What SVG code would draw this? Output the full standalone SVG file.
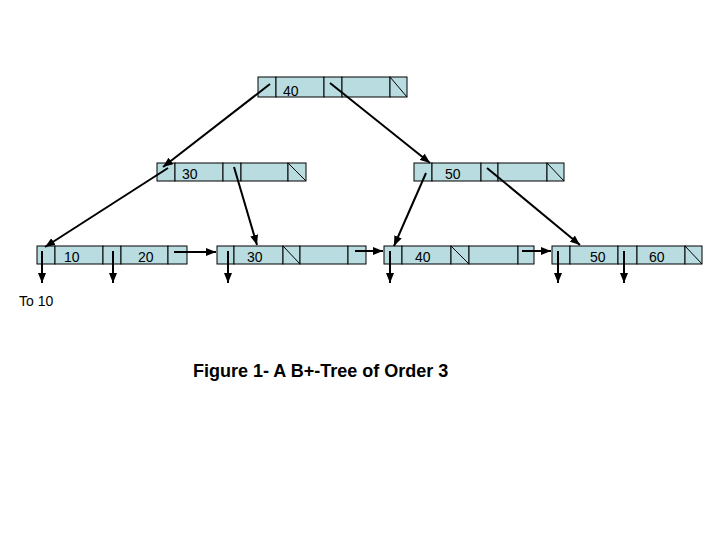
<svg xmlns="http://www.w3.org/2000/svg" width="720" height="540" viewBox="0 0 720 540">
<style>
.cell{fill:#B8DCE0;stroke:#000;stroke-width:1}
.null{stroke:#000;stroke-width:1}
.key{font-family:"Liberation Sans",Arial,sans-serif;font-size:14px;fill:#000}
.conn{stroke:#000;stroke-width:2;fill:none;marker-end:url(#ah)}
.cap{font-family:"Liberation Sans",Arial,sans-serif;font-size:18px;font-weight:bold;fill:#000}
</style>
<defs>
<marker id="ah" markerUnits="userSpaceOnUse" markerWidth="10" markerHeight="8" refX="10" refY="4" orient="auto">
<path d="M0,0 L10,4 L0,8 z" fill="#000"/>
</marker>
</defs>
<rect width="720" height="540" fill="#fff"/>

<g id="root">
<rect class="cell" x="258" y="77" width="18" height="20"/>
<rect class="cell" x="276" y="77" width="48" height="20"/>
<rect class="cell" x="324" y="77" width="18" height="20"/>
<rect class="cell" x="342" y="77" width="48" height="20"/>
<rect class="cell" x="390" y="77" width="17" height="20"/>
<line class="null" x1="390" y1="77" x2="407" y2="97"/>
<text class="key" x="283" y="96">40</text>
</g>

<g id="inner-30">
<rect class="cell" x="157" y="163" width="18" height="18"/>
<rect class="cell" x="175" y="163" width="48" height="18"/>
<rect class="cell" x="223" y="163" width="18" height="18"/>
<rect class="cell" x="241" y="163" width="47" height="18"/>
<rect class="cell" x="288" y="163" width="18" height="18"/>
<line class="null" x1="288" y1="163" x2="306" y2="181"/>
<text class="key" x="182" y="179">30</text>
</g>

<g id="inner-50">
<rect class="cell" x="414" y="163" width="18" height="18"/>
<rect class="cell" x="432" y="163" width="49" height="18"/>
<rect class="cell" x="481" y="163" width="17" height="18"/>
<rect class="cell" x="498" y="163" width="49" height="18"/>
<rect class="cell" x="547" y="163" width="17" height="18"/>
<line class="null" x1="547" y1="163" x2="564" y2="181"/>
<text class="key" x="445" y="179">50</text>
</g>

<g id="leaf-10-20">
<rect class="cell" x="37" y="246" width="18" height="18"/>
<rect class="cell" x="55" y="246" width="48" height="18"/>
<rect class="cell" x="103" y="246" width="18" height="18"/>
<rect class="cell" x="121" y="246" width="47" height="18"/>
<rect class="cell" x="168" y="246" width="19" height="18"/>
<text class="key" x="64" y="262">10</text>
<text class="key" x="138" y="262">20</text>
</g>

<g id="leaf-30">
<rect class="cell" x="217" y="246" width="17" height="18"/>
<rect class="cell" x="234" y="246" width="49" height="18"/>
<rect class="cell" x="283" y="246" width="17" height="18"/>
<rect class="cell" x="300" y="246" width="48" height="18"/>
<rect class="cell" x="348" y="246" width="18" height="18"/>
<line class="null" x1="283" y1="246" x2="300" y2="264"/>
<text class="key" x="247" y="262">30</text>
</g>

<g id="leaf-40">
<rect class="cell" x="384" y="246" width="18" height="18"/>
<rect class="cell" x="402" y="246" width="49" height="18"/>
<rect class="cell" x="451" y="246" width="18" height="18"/>
<rect class="cell" x="469" y="246" width="49" height="18"/>
<rect class="cell" x="518" y="246" width="16" height="18"/>
<line class="null" x1="451" y1="246" x2="469" y2="264"/>
<text class="key" x="415" y="262">40</text>
</g>

<g id="leaf-50-60">
<rect class="cell" x="552" y="246" width="18" height="18"/>
<rect class="cell" x="570" y="246" width="48" height="18"/>
<rect class="cell" x="618" y="246" width="19" height="18"/>
<rect class="cell" x="637" y="246" width="48" height="18"/>
<rect class="cell" x="685" y="246" width="17" height="18"/>
<line class="null" x1="685" y1="246" x2="702" y2="264"/>
<text class="key" x="590" y="262">50</text>
<text class="key" x="649" y="262">60</text>
</g>

<g id="connectors">
<line class="conn" x1="270" y1="84" x2="163" y2="167"/>
<line class="conn" x1="330" y1="83" x2="430" y2="163"/>
<line class="conn" x1="168" y1="168" x2="45" y2="247"/>
<line class="conn" x1="234" y1="167" x2="257" y2="245"/>
<line class="conn" x1="426" y1="173" x2="394" y2="246"/>
<line class="conn" x1="487" y1="168" x2="580" y2="245"/>
<line class="conn" x1="42" y1="251" x2="42" y2="283"/>
<line class="conn" x1="113" y1="251" x2="113" y2="283"/>
<line class="conn" x1="228" y1="251" x2="228" y2="283"/>
<line class="conn" x1="390" y1="251" x2="390" y2="283"/>
<line class="conn" x1="558" y1="251" x2="558" y2="283"/>
<line class="conn" x1="624" y1="251" x2="624" y2="283"/>
<line class="conn" x1="174" y1="252" x2="216" y2="252"/>
<line class="conn" x1="355" y1="251" x2="383" y2="251"/>
<line class="conn" x1="522" y1="251" x2="551" y2="251"/>
</g>

<text class="key" x="19" y="306">To 10</text>
<text class="cap" x="193" y="377">Figure 1- A B+-Tree of Order 3</text>
</svg>
